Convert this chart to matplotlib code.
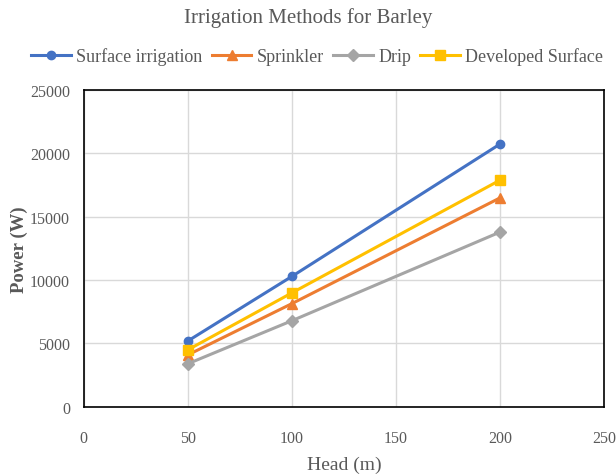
import matplotlib
matplotlib.use("Agg")
import matplotlib.pyplot as plt

plt.rcParams['font.family'] = ['Liberation Serif', 'DejaVu Serif']

head = [50, 100, 200]
surface = [5200, 10300, 20750]
sprinkler = [4100, 8150, 16500]
drip = [3400, 6800, 13800]
developed = [4500, 9000, 17900]

series = [
    ("Surface irrigation", surface, "#4472C4", "o", 6),
    ("Sprinkler", sprinkler, "#ED7D31", "^", 7),
    ("Drip", drip, "#A5A5A5", "D", 6),
    ("Developed Surface", developed, "#FFC000", "s", 7),
]

x_ticks = [0, 50, 100, 150, 200, 250]
y_ticks = [0, 5000, 10000, 15000, 20000, 25000]

text_color = "#595959"

fig = plt.figure(figsize=(6.16, 4.77), dpi=100)
ax = fig.add_axes([0.136, 0.145, 0.845, 0.664])

for name, vals, col, mk, ms in series:
    ax.plot(head, vals, color=col, marker=mk, markersize=ms, linewidth=2.2,
            label=name, zorder=3)

ax.set_xlim(0, 250)
ax.set_ylim(0, 25000)
ax.set_xticks(x_ticks)
ax.set_yticks(y_ticks)
ax.grid(True, color="#D9D9D9", linewidth=1)
ax.set_axisbelow(True)
for sp in ax.spines.values():
    sp.set_color("black")
    sp.set_linewidth(1.2)
ax.tick_params(length=0, labelsize=11.5, colors=text_color)
ax.tick_params(axis="x", pad=17)
ax.tick_params(axis="y", pad=10)

ax.set_xlabel("Head (m)", fontsize=14, color=text_color, va="center")
ax.xaxis.set_label_coords(0.5, -0.18)
ax.set_ylabel("Power (W)", fontsize=13.5, color=text_color, fontweight="bold",
              va="center")
ax.yaxis.set_label_coords(-0.123, 0.5)

fig.text(0.5, 0.962, "Irrigation Methods for Barley", ha="center", va="center",
         fontsize=15, color=text_color)
fig.legend(loc="center", bbox_to_anchor=(0.515, 0.88), ncol=4, frameon=False,
           fontsize=13, labelcolor=text_color, handlelength=2.2,
           handletextpad=0.3, columnspacing=0.5)

fig.savefig("out.png", dpi=100)
